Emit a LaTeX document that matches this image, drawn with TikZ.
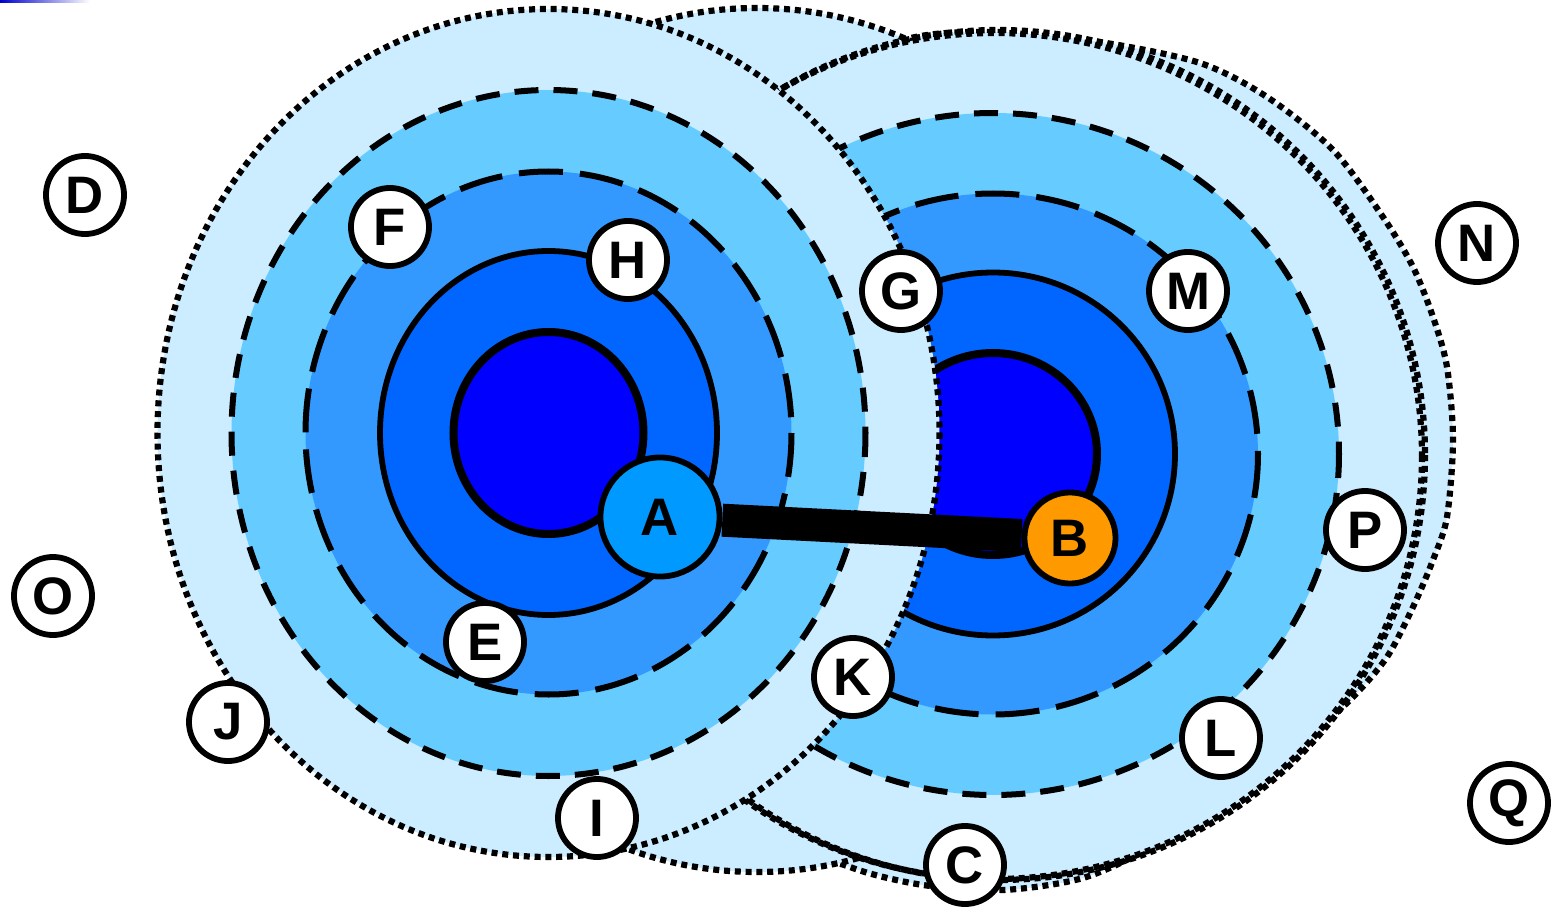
\documentclass[tikz,border=0pt]{standalone}
\usepackage{fontspec}
\setmainfont{Liberation Sans}
\usepackage{xcolor}
\definecolor{coreblue}{RGB}{0,0,255}
\definecolor{ringblue}{RGB}{0,102,255}
\definecolor{midblue}{RGB}{51,153,255}
\definecolor{skyblue}{RGB}{102,204,255}
\definecolor{paleblue}{RGB}{204,236,255}
\definecolor{nodeazure}{RGB}{0,153,255}
\definecolor{nodeorange}{RGB}{255,153,0}
\usepackage{tikz}
\usetikzlibrary{backgrounds}
\pgfdeclarelayer{zones}
\pgfdeclarelayer{links}
\pgfsetlayers{zones,links,main}

\tikzset{
  station/.style={circle, draw, line width=0.058cm, fill=white, minimum size=0.78cm,
                  inner sep=0pt, font=\fontsize{15pt}{16pt}\selectfont\bfseries},
  core/.style={line width=0.08cm},
  solidring/.style={line width=0.058cm},
  longdash/.style={line width=0.06cm, dash pattern=on 0.44cm off 0.17cm},
  shortdash/.style={line width=0.06cm, dash pattern=on 0.24cm off 0.15cm},
  dotring/.style={line width=0.062cm, dash pattern=on 0.06cm off 0.048cm}
}

\begin{document}
\begin{tikzpicture}[x=0.01cm, y=-0.01cm]
\useasboundingbox (0,0) rectangle (1553,909);
\shade[left color=blue!80!black, right color=white] (0,0) rectangle (90,2.5);

\begin{pgfonlayer}{zones}
\filldraw[fill=paleblue, dotring] plot[smooth cycle] coordinates {
  (903,40) (1000,32) (1100,42) (1200,63) (1267,97) (1333,150) (1383,217)
  (1413,267) (1433,317) (1447,367) (1453,440) (1447,517) (1433,560)
  (1413,607) (1387,657) (1353,697) (1313,733) (1257,777) (1200,815)
  (1150,848) (1083,878) (1003,890) (923,885) (850,867) (780,830)
  (640,650) (600,450) (640,250) (780,95)};
\filldraw[fill=paleblue, dotring] (757,440) ellipse [x radius=400, y radius=432];
\filldraw[fill=paleblue, dotring] (994,456) ellipse [x radius=428, y radius=423];
\draw[dotring] (998,455) ellipse [x radius=427, y radius=425];

\foreach \rx/\ry/\col/\sty in {
  346/341/skyblue/shortdash,
  265/260.5/midblue/longdash,
  182/181.5/ringblue/solidring,
  104/101/coreblue/core%
}{
  \filldraw[fill=\col, \sty] (993,454) ellipse [x radius=\rx, y radius=\ry];
}

\foreach \rx/\ry/\col/\sty in {
  391/424/paleblue/dotring,
  317/343/skyblue/shortdash,
  243/261.5/midblue/longdash,
  168.5/182/ringblue/solidring,
  95/101/coreblue/core%
}{
  \filldraw[fill=\col, \sty] (548.5,433) ellipse [x radius=\rx, y radius=\ry];
}
\end{pgfonlayer}

\node[station, fill=nodeazure, minimum size=1.19cm] (A) at (660,517) {A};
\node[station, fill=nodeorange, minimum size=0.91cm] (B) at (1070,538) {B};

\begin{pgfonlayer}{links}
\draw[line width=0.33cm] (A) -- (B);
\end{pgfonlayer}

\foreach \n/\x/\y in {
  D/85/195, F/390/227, H/628/260, G/901/291, M/1188/291,
  N/1477/243, P/1365/530, O/53/596, E/485/642, K/853/677,
  J/228/722, L/1221/738, I/597/818, C/965/865, Q/1509/803%
}{
  \node[station] (\n) at (\x,\y) {\n};
}
\end{tikzpicture}
\end{document}
